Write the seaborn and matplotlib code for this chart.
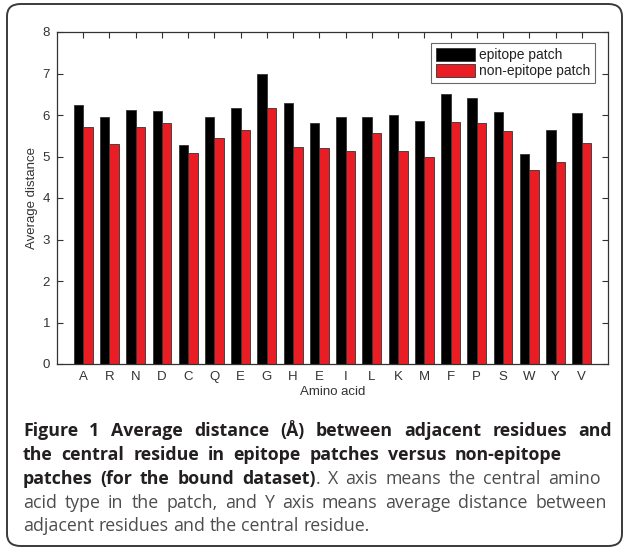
import matplotlib
matplotlib.use("Agg")
import matplotlib.pyplot as plt
from matplotlib.patches import FancyBboxPatch
import seaborn as sns
import pandas as pd
import numpy as np

# ---- data ----
tick_labels = ["A", "R", "N", "D", "C", "Q", "E", "G", "H", "E",
               "I", "L", "K", "M", "F", "P", "S", "W", "Y", "V"]
epitope = [6.23, 5.96, 6.12, 6.09, 5.28, 5.95, 6.16, 6.98, 6.28, 5.80,
           5.94, 5.95, 6.00, 5.86, 6.51, 6.40, 6.07, 5.06, 5.64, 6.05]
non_epitope = [5.70, 5.29, 5.70, 5.80, 5.08, 5.45, 5.65, 6.17, 5.24, 5.20,
               5.13, 5.56, 5.13, 4.99, 5.84, 5.80, 5.61, 4.68, 4.87, 5.33]
series_names = ["epitope patch", "non-epitope patch"]
y_ticks = [0, 1, 2, 3, 4, 5, 6, 7, 8]

positions = list(range(1, len(tick_labels) + 1))
df = pd.DataFrame({
    "pos": positions * 2,
    "value": epitope + non_epitope,
    "series": [series_names[0]] * len(epitope) + [series_names[1]] * len(non_epitope),
})

sns.set_theme(style="white")
plt.rcParams["font.family"] = ["Liberation Sans", "DejaVu Sans"]

W, H = 624, 553
fig = plt.figure(figsize=(W / 100, H / 100), dpi=100)
fig.patch.set_facecolor("white")

# rounded outer frame
frame = FancyBboxPatch((7 / W, 7 / H), (622 - 7) / W, (549 - 7) / H,
                       boxstyle="round,pad=0,rounding_size=0.022",
                       transform=fig.transFigure, fill=False,
                       edgecolor="#3a3a3a", linewidth=1.4, zorder=0)
fig.patches.append(frame)

ax = fig.add_axes([57 / W, 1 - 364 / H, (608 - 57) / W, (364 - 32) / H])
palette = {series_names[0]: "#000000", series_names[1]: "#ea1d25"}
sns.barplot(data=df, x="pos", y="value", hue="series", palette=palette,
            native_scale=True, width=0.72, saturation=1, edgecolor="#333333",
            linewidth=0.6, ax=ax, legend=True, errorbar=None)

ax.set_xlim(0, 21)
ax.set_ylim(0, 8)
ax.set_xticks(positions)
ax.set_xticklabels(tick_labels)
ax.set_yticks(y_ticks)
ax.set_yticklabels([str(t) for t in y_ticks])
ax.tick_params(direction="in", length=4, width=0.8, colors="#333333",
               labelsize=9.5, top=True, right=True, bottom=True, left=True,
               labelcolor="#333333", pad=5)
for s in ax.spines.values():
    s.set_visible(True)
    s.set_color("#333333")
    s.set_linewidth(0.9)
ax.set_xlabel("Amino acid", fontsize=9.5, color="#333333", labelpad=2)
ax.set_ylabel("Average distance", fontsize=9.5, color="#333333", labelpad=3)

leg = ax.legend(loc="upper right", bbox_to_anchor=(0.976, 0.967), fontsize=10,
                frameon=True, fancybox=False, edgecolor="#444444",
                handlelength=2.8, handleheight=1.05, handletextpad=0.25,
                borderpad=0.35, labelspacing=0.15, borderaxespad=0)
leg.get_frame().set_linewidth(0.8)
for t in leg.get_texts():
    t.set_color("#222222")

# ---- caption (justified lines) ----
cap_font = ["Open Sans", "DejaVu Sans"]
fs = 12.8
BOLD_C, REG_C = "#231f20", "#4d4d4f"
# each line: list of (text, bold, glue_to_previous)
lines = [
    ([(w, True, False) for w in "Figure 1 Average distance (Å) between adjacent residues and".split()], 612),
    ([(w, True, False) for w in "the central residue in epitope patches versus non-epitope".split()], 562),
    ([(w, True, False) for w in "patches (for the bound dataset)".split()]
     + [(".", False, True)]
     + [(w, False, False) for w in "X axis means the central amino".split()], 601),
    ([(w, False, False) for w in "acid type in the patch, and Y axis means average distance between".split()], 607),
    ([(w, False, False) for w in "adjacent residues and the central residue.".split()], None),
]
baselines = [436, 460, 484, 508, 531]
x_left = 23
r = fig.canvas.get_renderer()

def width_of(s, bold):
    t = fig.text(0, 0, s, fontsize=fs, family=cap_font,
                 fontweight="bold" if bold else "normal")
    w = t.get_window_extent(renderer=r).width
    t.remove()
    return w

space_w = width_of("a a", False) - 2 * width_of("a", False)

for (tokens, right), base in zip(lines, baselines):
    widths = [width_of(s, b) for s, b, g in tokens]
    n_gaps = sum(1 for i, (s, b, g) in enumerate(tokens) if i > 0 and not g)
    if right is None:
        gap = space_w
    else:
        gap = (right - x_left - sum(widths)) / n_gaps
    x = x_left
    for i, ((s, b, g), w) in enumerate(zip(tokens, widths)):
        if i > 0 and not g:
            x += gap
        fig.text(x / W, 1 - base / H, s, fontsize=fs, family=cap_font,
                 fontweight="bold" if b else "normal",
                 color=BOLD_C if b else REG_C, va="baseline", ha="left")
        x += w

fig.savefig("out.png", dpi=100)
